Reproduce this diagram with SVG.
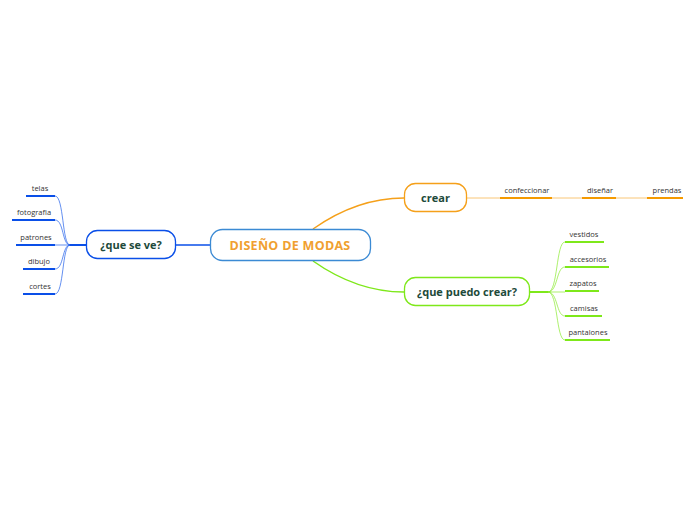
<svg xmlns="http://www.w3.org/2000/svg" width="696" height="520" viewBox="0 0 696 520">
<style>
.t{font-family:"Open Sans","Noto Sans","DejaVu Sans",sans-serif;}
.sub{font-size:7.5px;fill:#333;text-anchor:middle;}
.main{font-size:11px;font-weight:bold;fill:#1d4a3a;text-anchor:middle;}
.blue{stroke:#0a4fe8;fill:none;}
.org{stroke:#f5a01a;fill:none;}
.grn{stroke:#7ee81a;fill:none;}
</style>
<rect width="696" height="520" fill="#fff"/>
<g id="connectors">
  <path d="M210,245 H176" class="blue" stroke-width="1.5" stroke="#5a7fe8"/>
  <path d="M313,229 C340,210 370,198 404,198" class="org" stroke-width="1.5"/>
  <path d="M313,261 C340,280 370,292 404,292" class="grn" stroke-width="1.5"/>
  <path d="M467,198 H500 M552,198 H582 M616,198 H647" class="org" stroke-width="1" stroke-opacity="0.6"/>
  <path d="M86,245 H70" class="blue" stroke-width="2"/>
  <g class="blue" stroke-width="0.8" stroke-opacity="0.8">
    <path d="M70,245 C62,245 64,196 55,196"/>
    <path d="M70,245 C62,245 64,220 55,220"/>
    <path d="M70,245 H55"/>
    <path d="M70,245 C62,245 64,269 55,269"/>
    <path d="M70,245 C62,245 64,294 55,294"/>
  </g>
  <path d="M530,292 H548" class="grn" stroke-width="2"/>
  <g class="grn" stroke-width="0.8" stroke-opacity="0.8">
    <path d="M548,292 C558,292 556,242 565,242"/>
    <path d="M548,292 C558,292 556,267 565,267"/>
    <path d="M548,292 H565"/>
    <path d="M548,292 C558,292 556,316 565,316"/>
    <path d="M548,292 C558,292 556,340 565,340"/>
  </g>
</g>
<g id="central">
  <rect x="210.5" y="229.5" width="160" height="31" rx="12" fill="#fff" stroke="#3b8ad4" stroke-width="1.3"/>
  <text x="290" y="249.5" class="t" font-size="12.5" letter-spacing="0.3" font-weight="bold" fill="#f0a030" text-anchor="middle">DISEÑO DE MODAS</text>
</g>
<g id="n-queseve">
  <rect x="86.5" y="230.5" width="89" height="28" rx="11" fill="#fff" stroke="#0a4fe8" stroke-width="1.3"/>
  <text x="131" y="248.5" class="t main">¿que se ve?</text>
</g>
<g id="n-crear">
  <rect x="404.5" y="183.5" width="62" height="28" rx="11" fill="#fff" stroke="#f5a01a" stroke-width="1.3"/>
  <text x="435.5" y="201.5" class="t main">crear</text>
</g>
<g id="n-puedo">
  <rect x="404.5" y="277.5" width="125" height="28" rx="11" fill="#fff" stroke="#7ee81a" stroke-width="1.3"/>
  <text x="467" y="295.5" class="t main">¿que puedo crear?</text>
</g>
<g id="s-telas"><path d="M26,196 H55" stroke="#0a4fe8" stroke-width="2"/><text x="40" y="191" class="t sub">telas</text></g>
<g id="s-fotografia"><path d="M12,220 H55" stroke="#0a4fe8" stroke-width="2"/><text x="34" y="215" class="t sub">fotografia</text></g>
<g id="s-patrones"><path d="M16,245 H55" stroke="#0a4fe8" stroke-width="2"/><text x="36" y="240" class="t sub">patrones</text></g>
<g id="s-dibujo"><path d="M23,269 H55" stroke="#0a4fe8" stroke-width="2"/><text x="39" y="264" class="t sub">dibujo</text></g>
<g id="s-cortes"><path d="M23,294 H55" stroke="#0a4fe8" stroke-width="2"/><text x="40" y="289" class="t sub">cortes</text></g>
<g id="s-confeccionar"><path d="M500,198 H552" stroke="#f59a00" stroke-width="2"/><text x="527" y="192.5" class="t sub">confeccionar</text></g>
<g id="s-disenar"><path d="M582,198 H616" stroke="#f59a00" stroke-width="2"/><text x="600" y="192.5" class="t sub">diseñar</text></g>
<g id="s-prendas"><path d="M647,198 H683" stroke="#f59a00" stroke-width="2"/><text x="667" y="192.5" class="t sub">prendas</text></g>
<g id="s-vestidos"><path d="M565,242 H604" stroke="#7ee81a" stroke-width="2"/><text x="584" y="237" class="t sub">vestidos</text></g>
<g id="s-accesorios"><path d="M565,267 H609" stroke="#7ee81a" stroke-width="2"/><text x="588" y="262" class="t sub">accesorios</text></g>
<g id="s-zapatos"><path d="M565,291 H599" stroke="#7ee81a" stroke-width="2"/><text x="583" y="286" class="t sub">zapatos</text></g>
<g id="s-camisas"><path d="M565,316 H602" stroke="#7ee81a" stroke-width="2"/><text x="584" y="311" class="t sub">camisas</text></g>
<g id="s-pantalones"><path d="M565,340 H610" stroke="#7ee81a" stroke-width="2"/><text x="588" y="335" class="t sub">pantalones</text></g>
</svg>
